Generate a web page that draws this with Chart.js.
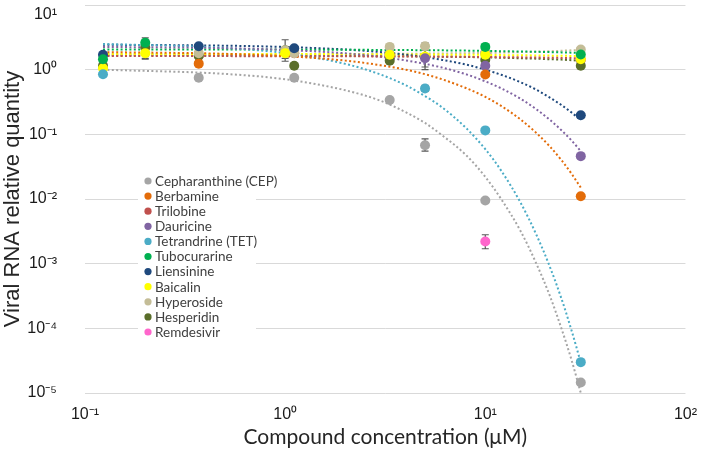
<!DOCTYPE html>
<html>
<head>
<meta charset="utf-8">
<script src="https://cdn.jsdelivr.net/npm/chart.js@4.4.0/dist/chart.umd.min.js"></script>
<style>
  html, body { margin: 0; background: #fff; }
</style>
</head>
<body>
<canvas id="chart" width="709" height="455"></canvas>
<script>
// Viral RNA vs compound concentration, log-log, with dotted exponential trend lines.

const xTickValues = [0.1, 1, 10, 100];
const xTickLabels = ["10⁻¹", "10⁰", "10¹", "10²"];
const yTickValues = [1e-5, 1e-4, 1e-3, 1e-2, 1e-1, 1, 10];
const yTickLabels = ["10⁻⁵", "10⁻⁴", "10⁻³", "10⁻²", "10⁻¹", "10⁰", "10¹"];

const compounds = ["Cepharanthine (CEP)", "Berbamine", "Trilobine", "Dauricine", "Tetrandrine (TET)",
  "Tubocurarine", "Liensinine", "Baicalin", "Hyperoside", "Hesperidin", "Remdesivir"];
const colors = ["#a5a5a5", "#e36c09", "#c0504d", "#8064a2", "#4bacc6",
  "#00b050", "#1f497d", "#ffff00", "#c4bd97", "#5a6e2a", "#ff66cc"];

// measured points (µM, relative quantity)
const cepConc = [0.37, 1.11, 3.33, 5, 10, 30];
const cepVal  = [0.75, 0.75, 0.34, 0.068, 0.0095, 1.45e-5];
const berConc = [0.37, 10, 30];
const berVal  = [1.24, 0.84, 0.011];
const triConc = [0.37, 1.11, 3.33, 10, 30];
const triVal  = [1.64, 1.8, 1.7, 1.8, 1.42];
const dauConc = [5, 10, 30];
const dauVal  = [1.5, 1.15, 0.046];
const tetConc = [0.123, 5, 10, 30];
const tetVal  = [0.85, 0.51, 0.115, 3.0e-5];
const tubConc = [0.123, 0.2, 10, 30];
const tubVal  = [1.45, 2.6, 2.25, 1.72];
const lieConc = [0.123, 0.37, 1.11, 30];
const lieVal  = [1.7, 2.3, 2.15, 0.197];
const baiConc = [0.123, 0.2, 1, 3.33, 5, 10, 30];
const baiVal  = [1.05, 1.8, 1.8, 1.7, 1.6, 1.7, 1.45];
const hypConc = [0.37, 1, 1.11, 3.33, 5, 10, 30];
const hypVal  = [1.8, 2.0, 1.8, 2.25, 2.3, 1.8, 2.05];
const hesConc = [0.123, 0.2, 0.37, 1, 1.11, 3.33, 10, 30];
const hesVal  = [1.15, 2.2, 1.64, 2.0, 1.15, 1.37, 1.42, 1.15];
const remConc = [10];
const remVal  = [0.0022];

// trend lines at these concentrations
const fitConc = [0.123, 0.5, 1, 2, 3, 4, 5, 6, 8, 10, 12, 15, 18, 21, 24, 27, 30];
const cepFit = [1.0, 0.86, 0.71, 0.48, 0.33, 0.22, 0.15, 0.10, 0.048, 0.022, 0.01, 0.0032, 0.001, 3.2e-4, 1e-4, 3.2e-5, 1e-5];
const berFit = [1.87, 1.76, 1.62, 1.38, 1.17, 1.0, 0.85, 0.72, 0.52, 0.38, 0.275, 0.17, 0.105, 0.065, 0.04, 0.0245, 0.015];
const triFit = [1.62, 1.62, 1.61, 1.61, 1.6, 1.6, 1.59, 1.59, 1.58, 1.57, 1.56, 1.55, 1.54, 1.53, 1.52, 1.51, 1.5];
const dauFit = [2.25, 2.15, 2.02, 1.79, 1.58, 1.39, 1.23, 1.09, 0.85, 0.66, 0.515, 0.355, 0.244, 0.168, 0.116, 0.08, 0.055];
const tetFit = [2.5, 2.17, 1.8, 1.23, 0.84, 0.575, 0.39, 0.27, 0.126, 0.059, 0.0275, 0.0088, 0.0028, 9e-4, 2.9e-4, 9.2e-5, 2.95e-5];
const tubFit = [2.05, 2.05, 2.04, 2.03, 2.02, 2.01, 2.0, 1.99, 1.97, 1.95, 1.93, 1.91, 1.89, 1.87, 1.85, 1.83, 1.81];
const lieFit = [2.43, 2.35, 2.24, 2.05, 1.87, 1.71, 1.57, 1.43, 1.2, 1.0, 0.835, 0.64, 0.49, 0.37, 0.284, 0.217, 0.166];
const baiFit = [1.75, 1.75, 1.74, 1.74, 1.73, 1.72, 1.72, 1.71, 1.7, 1.69, 1.68, 1.67, 1.66, 1.65, 1.64, 1.63, 1.62];
const hypFit = [1.72, 1.72, 1.73, 1.74, 1.75, 1.76, 1.77, 1.78, 1.8, 1.82, 1.84, 1.87, 1.9, 1.93, 1.96, 1.99, 2.02];
const hesFit = [1.65, 1.65, 1.64, 1.63, 1.62, 1.61, 1.6, 1.59, 1.57, 1.55, 1.53, 1.5, 1.48, 1.45, 1.43, 1.4, 1.38];

// error bars
const errConc = [0.2, 0.2, 0.2, 1, 1, 5, 5, 5, 5, 10];
const errLow  = [2.0, 1.5, 1.45, 1.35, 1.5, 1.0, 1.1, 0.055, 0.46, 0.0017];
const errHigh = [3.1, 2.9, 2.0, 2.9, 2.2, 2.6, 2.0, 0.085, 0.57, 0.0028];

const pointConc = [cepConc, berConc, triConc, dauConc, tetConc, tubConc, lieConc, baiConc, hypConc, hesConc, remConc];
const pointVal  = [cepVal, berVal, triVal, dauVal, tetVal, tubVal, lieVal, baiVal, hypVal, hesVal, remVal];
const fits      = [cepFit, berFit, triFit, dauFit, tetFit, tubFit, lieFit, baiFit, hypFit, hesFit, null];

const xy = (xs, ys) => xs.map((x, i) => ({ x, y: ys[i] }));

const datasets = [];
compounds.forEach((name, i) => {
  datasets.push({
    type: "scatter",
    label: name,
    data: xy(pointConc[i], pointVal[i]),
    backgroundColor: colors[i],
    borderWidth: 0,
    pointRadius: 5,
    pointHoverRadius: 5,
    order: name === "Trilobine" ? 20 : i
  });
  if (fits[i]) {
    datasets.push({
      type: "line",
      label: name + " fit",
      data: xy(fitConc, fits[i]),
      borderColor: colors[i],
      borderWidth: 2,
      borderDash: [2, 2.4],
      pointRadius: 0,
      fill: false,
      cubicInterpolationMode: "monotone",
      order: 50
    });
  }
});

const errorBars = {
  id: "errorBars",
  beforeDatasetsDraw(chart) {
    const { ctx, scales: { x, y } } = chart;
    ctx.save();
    ctx.strokeStyle = "#595959";
    ctx.lineWidth = 1.2;
    errConc.forEach((c, i) => {
      const px = x.getPixelForValue(c);
      const y1 = y.getPixelForValue(errLow[i]);
      const y2 = y.getPixelForValue(errHigh[i]);
      ctx.beginPath();
      ctx.moveTo(px, y1); ctx.lineTo(px, y2);
      ctx.moveTo(px - 3.5, y1); ctx.lineTo(px + 3.5, y1);
      ctx.moveTo(px - 3.5, y2); ctx.lineTo(px + 3.5, y2);
      ctx.stroke();
    });
    ctx.restore();
  }
};

// legend sits inside the plot, lower left
const insideLegend = {
  id: "insideLegend",
  afterDraw(chart) {
    const { ctx, chartArea } = chart;
    const x0 = chartArea.left + 63, y0 = 181, step = 15.1;
    ctx.save();
    ctx.fillStyle = "#fff";
    ctx.fillRect(x0 - 10, y0 - 9, 108 + 10, step * compounds.length + 4);
    ctx.font = "13.5px Lato";
    ctx.textBaseline = "middle";
    compounds.forEach((name, i) => {
      const yy = y0 + i * step;
      ctx.fillStyle = colors[i];
      ctx.beginPath();
      ctx.arc(x0, yy, 3.6, 0, Math.PI * 2);
      ctx.fill();
      ctx.fillStyle = "#404040";
      ctx.fillText(name, x0 + 7, yy + 0.5);
    });
    ctx.restore();
  }
};

new Chart(document.getElementById("chart"), {
  data: { datasets },
  options: {
    responsive: false,
    animation: false,
    events: [],
    layout: { padding: { top: 2, right: 17, left: 0, bottom: 0 } },
    plugins: { legend: { display: false }, tooltip: { enabled: false } },
    scales: {
      x: {
        type: "logarithmic",
        min: 0.1, max: 100,
        afterBuildTicks: (s) => { s.ticks = xTickValues.map((v) => ({ value: v })); },
        afterFit: (s) => { s.height = 62; },
        ticks: {
          callback: (v, i) => xTickLabels[i],
          padding: 12,
          color: "#1a1a1a",
          font: { family: "Liberation Sans", size: 16 },
          maxRotation: 0
        },
        grid: { display: false, drawTicks: false },
        border: { display: false },
        title: {
          display: true,
          text: "Compound concentration (μM)",
          color: "#262626",
          font: { family: "Lato", size: 21 },
          padding: { top: 0, bottom: 5 }
        }
      },
      y: {
        type: "logarithmic",
        min: 1e-5, max: 10,
        afterBuildTicks: (s) => { s.ticks = yTickValues.map((v) => ({ value: v })); },
        afterFit: (s) => { s.width = 85; s.paddingTop = 0; s.paddingBottom = 0; },
        ticks: {
          callback: (v, i) => (i === yTickLabels.length - 1 ? ["", yTickLabels[i]] : yTickLabels[i]),
          padding: 28,
          color: "#1a1a1a",
          font: { family: "Liberation Sans", size: 16 }
        },
        grid: { color: "#d9d9d9", lineWidth: 1, drawTicks: false },
        border: { display: false },
        title: {
          display: true,
          text: "Viral RNA relative quantity",
          color: "#262626",
          font: { family: "Liberation Sans", size: 22 },
          padding: { top: 0, bottom: 0 }
        }
      }
    }
  },
  plugins: [errorBars, insideLegend]
});
</script>
</body>
</html>
